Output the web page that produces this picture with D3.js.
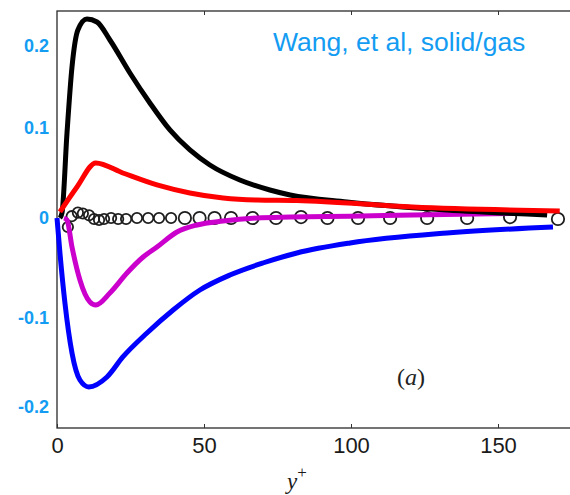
<!DOCTYPE html>
<html><head><meta charset="utf-8">
<script src="https://cdn.jsdelivr.net/npm/d3@7/dist/d3.min.js"></script>
<style>html,body{margin:0;padding:0;background:#fff;}svg{display:block;}</style>
</head><body>
<svg id="c" width="570" height="495"></svg>
<script>
// ---- data (y+ , value) ----
const blackX = [1, 1.7, 3.4, 5.1, 7.1, 10.2, 13.6, 18, 24.8, 31.6, 38.4, 45.2, 52, 62.2, 72.4, 79.3, 98.6, 132.7, 166.7];
const blackY = [0, 0.0056, 0.0944, 0.1744, 0.2195, 0.2329, 0.2293, 0.2073, 0.1671, 0.1305, 0.0978, 0.0756, 0.0589, 0.0422, 0.0311, 0.0256, 0.0178, 0.0089, 0.0033];
const redX = [1, 6.8, 13.2, 22.4, 34, 45.2, 56.5, 68, 81.6, 121, 171];
const redY = [0.0067, 0.0344, 0.0611, 0.05, 0.0367, 0.0278, 0.0222, 0.02, 0.0195, 0.0122, 0.0078];
const magentaX = [2.4, 3.4, 5.1, 7.8, 11.2, 13.2, 18, 23.8, 29.3, 34, 40.8, 47.6, 56.5, 68, 79.3, 99.7, 121, 166.7];
const magentaY = [0, -0.002, -0.029, -0.062, -0.084, -0.087, -0.075, -0.055, -0.039, -0.029, -0.014, -0.007, -0.003, 0, 0.001, 0.002, 0.0033, 0.0056];
const blueX = [0, 1, 2.7, 5.1, 7.8, 10.8, 17, 22.4, 30.6, 39.5, 48.6, 58.8, 70, 81.6, 99.7, 132.7, 168.7];
const blueY = [0, -0.035, -0.085, -0.1393, -0.1697, -0.1775, -0.1663, -0.1438, -0.1169, -0.092, -0.072, -0.057, -0.045, -0.035, -0.025, -0.015, -0.009];
const circleX = [3.7, 5, 7.1, 8.8, 10.9, 12.6, 14.3, 16, 18.4, 20.8, 23.5, 27.2, 31, 34.7, 38.8, 43.5, 48.5, 53.6, 59.2, 66.5, 74.5, 83, 92, 102.4, 113.3, 125.9, 139.5, 154.1, 170.4];
const circleY = [-0.009, 0.002, 0.006, 0.005, 0.003, -0.001, -0.002, -0.001, 0, -0.001, -0.001, 0, 0, 0, 0, 0, 0, 0, 0, 0, 0, 0.001, 0, 0, 0, 0, 0, 0.001, -0.001];
const xTicks = [0, 50, 100, 150];
const yTicks = [-0.2, -0.1, 0, 0.1, 0.2];
const yTickLabels = ["-0.2", "-0.1", "0", "0.1", "0.2"];
const title = "Wang, et al, solid/gas";

// ---- layout ----
const svg = d3.select("#c");
const L = 57, T = 11, B = 428, R = 573;
const x = d3.scaleLinear().domain([0, 50]).range([57, 204]);
const y = d3.scaleLinear().domain([-0.2, -0.1, 0, 0.1, 0.2]).range([407, 318, 218, 128, 46]);
const blue = "#139cf2";

// frame
svg.append("rect").attr("x", L).attr("y", T).attr("width", R - L).attr("height", B - T)
  .attr("fill", "none").attr("stroke", "#2a2a2a").attr("stroke-width", 1.3);

// x axis
const xa = svg.append("g").attr("transform", `translate(0,${B})`)
  .call(d3.axisBottom(x).tickValues(xTicks).tickSizeInner(-4).tickSizeOuter(0).tickPadding(9).tickFormat(d3.format("d")));
xa.select(".domain").remove();
xa.selectAll("line").attr("stroke", "#333");
xa.selectAll("text").attr("font-family", "Liberation Sans, Arial, sans-serif").attr("font-size", 22).attr("fill", "#1a1a1a");
// top ticks
const xt = svg.append("g").attr("transform", `translate(0,${T})`)
  .call(d3.axisTop(x).tickValues(xTicks.slice(1)).tickSizeInner(-4).tickSizeOuter(0).tickFormat(""));
xt.select(".domain").remove();
xt.selectAll("line").attr("stroke", "#333");

// y axis labels
const ya = svg.append("g").attr("transform", `translate(${L},0)`)
  .call(d3.axisLeft(y).tickValues(yTicks).tickSize(0).tickPadding(8).tickFormat((d, i) => yTickLabels[i]));
ya.select(".domain").remove();
ya.selectAll("text").attr("font-family", "Liberation Sans, Arial, sans-serif").attr("font-size", 18)
  .attr("font-weight", "bold").attr("fill", blue);

// curves
const line = d3.line().x(d => x(d[0])).y(d => y(d[1])).curve(d3.curveMonotoneX);
function draw(xs, ys, color) {
  svg.append("path").datum(xs.map((v, i) => [v, ys[i]])).attr("d", line)
    .attr("fill", "none").attr("stroke", color).attr("stroke-width", 5)
    .attr("stroke-linejoin", "round").attr("stroke-linecap", "butt");
}

// circles
svg.append("g").selectAll("circle").data(circleX.map((v, i) => [v, circleY[i]])).join("circle")
  .attr("cx", d => x(d[0])).attr("cy", d => y(d[1]))
  .attr("r", d => d[0] < 40 ? 5.2 : 6.2)
  .attr("fill", "none").attr("stroke", "#1e1e1e").attr("stroke-width", 1.8);

draw(blueX, blueY, "#0000ff");
draw(magentaX, magentaY, "#cc00cc");
draw(blackX, blackY, "#000000");
draw(redX, redY, "#ff0000");

// title
svg.append("text").attr("x", 273).attr("y", 51).text(title)
  .attr("font-family", "Liberation Sans, Arial, sans-serif").attr("font-size", 26.5).attr("fill", blue);

// (a)
const a = svg.append("text").attr("x", 411).attr("y", 385).attr("text-anchor", "middle")
  .attr("font-family", "Liberation Serif, Times New Roman, serif").attr("font-size", 24).attr("fill", "#222");
a.append("tspan").text("(");
a.append("tspan").attr("font-style", "italic").text("a");
a.append("tspan").text(")");

// y+ label
const yl = svg.append("text").attr("x", 287).attr("y", 489)
  .attr("font-family", "Liberation Serif, Times New Roman, serif").attr("font-size", 23).attr("fill", "#1a1a1a");
yl.append("tspan").attr("font-style", "italic").text("y");
yl.append("tspan").attr("font-size", 17).attr("dy", -11).text("+");
</script>
</body></html>
